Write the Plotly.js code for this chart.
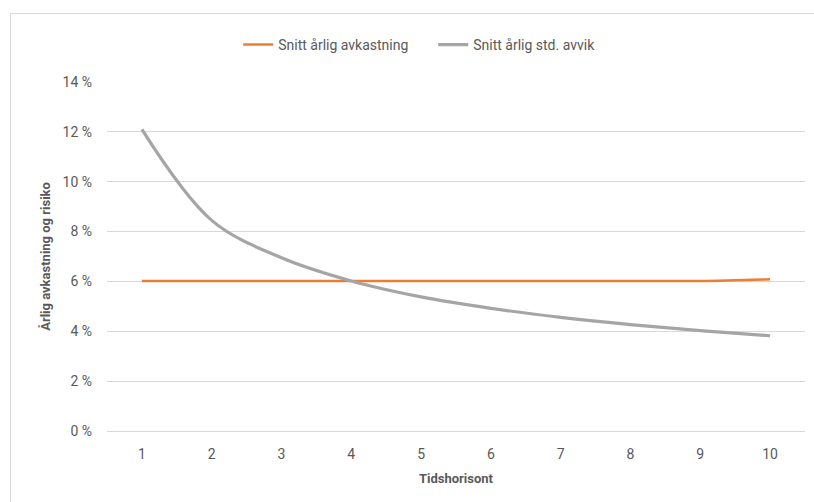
<!DOCTYPE html>
<html>
<head>
<meta charset="utf-8">
<script src="https://cdn.plot.ly/plotly-3.0.1.min.js"></script>
<style>
  html, body { margin: 0; padding: 0; background: #fff; }
  #wrap { position: relative; width: 814px; height: 502px; overflow: hidden; }
  #chart { width: 814px; height: 502px; }
  #frame { position: absolute; left: 10px; top: 13px; width: 820px; height: 500px;
           border: 1px solid #D9D9D9; pointer-events: none; box-sizing: border-box; }
</style>
</head>
<body>
<div id="wrap">
  <div id="chart"></div>
  <div id="frame"></div>
</div>
<script>
// Time horizon in years
const horizon = [1, 2, 3, 4, 5, 6, 7, 8, 9, 10];
// Average annual return (%)
const avgReturn = [6.02, 6.02, 6.02, 6.02, 6.02, 6.02, 6.02, 6.02, 6.02, 6.09];
// Average annual standard deviation (%)
const avgStd = [12.1, 8.45, 6.95, 6.02, 5.38, 4.92, 4.56, 4.27, 4.03, 3.82];
const yTicks = [0, 2, 4, 6, 8, 10, 12, 14];
const yTickText = yTicks.map(v => v + ' %');

const font = 'Liberation Sans Narrow, Roboto, Liberation Sans, sans-serif';

const traces = [
  {
    x: horizon, y: avgReturn, name: 'Snitt årlig avkastning',
    type: 'scatter', mode: 'lines',
    line: { color: '#ED7D31', width: 2.5, shape: 'spline', smoothing: 1 },
    hoverinfo: 'skip'
  },
  {
    x: horizon, y: avgStd, name: 'Snitt årlig std. avvik',
    type: 'scatter', mode: 'lines',
    line: { color: '#A5A5A5', width: 3.2, shape: 'spline', smoothing: 1 },
    hoverinfo: 'skip'
  }
];

const layout = {
  width: 814, height: 502,
  margin: { l: 107, r: 9, t: 82, b: 71 },
  paper_bgcolor: '#fff', plot_bgcolor: '#fff',
  font: { family: font, size: 13, color: '#595959' },
  showlegend: true,
  legend: {
    orientation: 'h', x: 0.188, xanchor: 'left', y: 1.106, yanchor: 'middle',
    font: { family: font, size: 14, color: '#595959' },
    entrywidth: 150, entrywidthmode: 'pixels',
    itemwidth: 30, tracegroupgap: 0
  },
  xaxis: {
    type: 'linear', range: [0.5, 10.5], tickvals: horizon,
    ticktext: horizon.map(String),
    showgrid: false, zeroline: false,
    showline: true, linecolor: '#D9D9D9', linewidth: 1,
    ticks: '', ticklabelstandoff: 10,
    tickfont: { family: font, size: 14, color: '#595959' },
    title: { text: '<b>Tidshorisont</b>', standoff: 13,
             font: { family: font, size: 13, color: '#595959' } },
    fixedrange: true
  },
  yaxis: {
    range: [0, 14], tickvals: yTicks, ticktext: yTickText,
    showgrid: true, gridcolor: '#D9D9D9', gridwidth: 1,
    zeroline: false, showline: false, ticks: '', ticklabelstandoff: 14,
    tickfont: { family: font, size: 14, color: '#595959' },
    title: { text: '<b>Årlig avkastning og risiko</b>', standoff: 8,
             font: { family: font, size: 13, color: '#595959' } },
    fixedrange: true
  }
};

Plotly.newPlot('chart', traces, layout, { displayModeBar: false, staticPlot: true });
</script>
</body>
</html>
